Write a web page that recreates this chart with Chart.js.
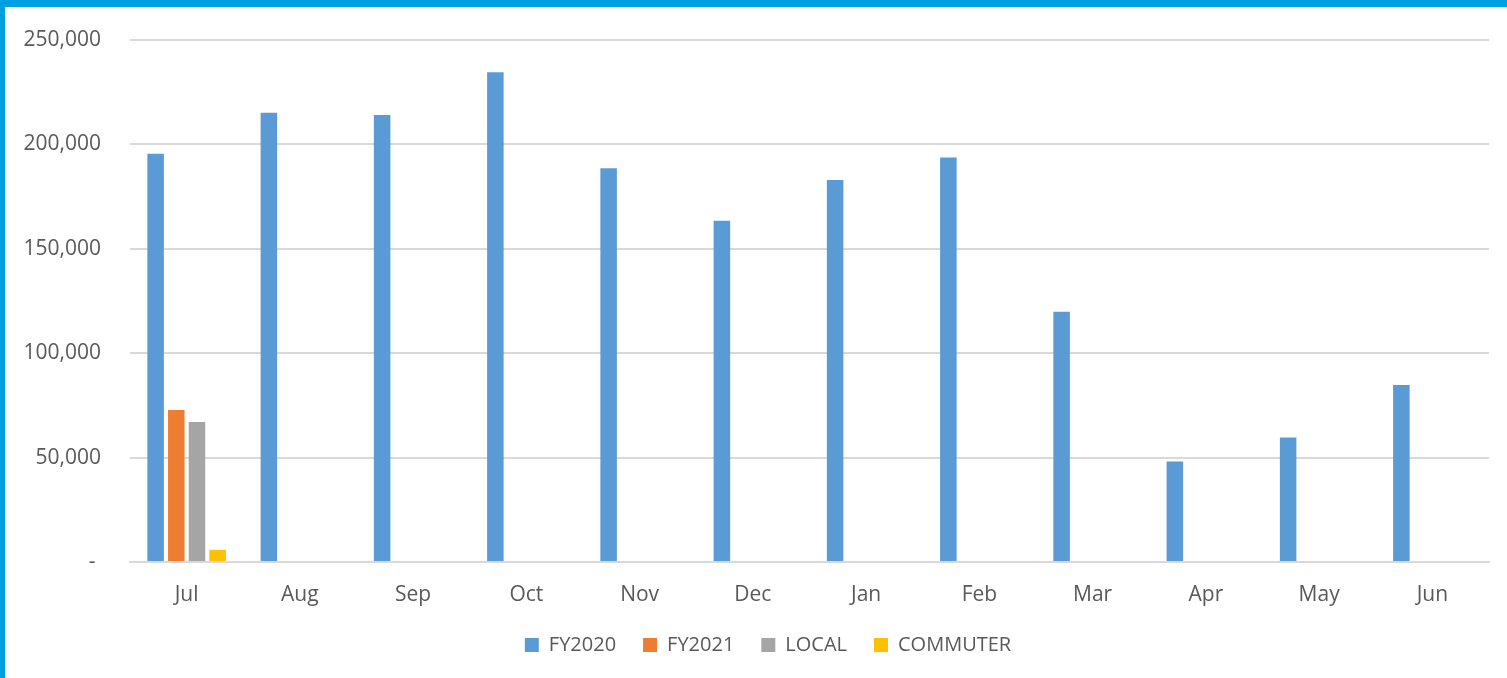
<!DOCTYPE html>
<html>
<head>
<meta charset="utf-8">
<script src="https://cdn.jsdelivr.net/npm/chart.js@4.4.1/dist/chart.umd.min.js"></script>
<style>
  html, body { margin: 0; padding: 0; background: #fff; }
  #frame {
    width: 1502px; height: 671px;
    border-top: 7px solid #009FDF;
    border-left: 5px solid #009FDF;
    background: #fff;
  }
  canvas { display: block; }
</style>
</head>
<body>
<div id="frame"><canvas id="c" width="1502" height="671"></canvas></div>
<script>
// Monthly ridership
const months = ['Jul', 'Aug', 'Sep', 'Oct', 'Nov', 'Dec', 'Jan', 'Feb', 'Mar', 'Apr', 'May', 'Jun'];
const fy2020 = [195500, 215200, 214100, 234600, 188600, 163400, 183000, 193700, 119900, 48100, 59600, 84800];
const fy2021 = [72800];
const local = [67100];
const commuter = [5800];
const yTicks = [0, 50000, 100000, 150000, 200000, 250000];

const textColor = '#595959';
const gridColor = '#D9D9D9';
const fontFamily = '"Open Sans", "Segoe UI", sans-serif';

// Nudge the legend row a little to the right of the canvas centre
const legendShift = {
  id: 'legendShift',
  afterLayout(chart) {
    if (chart.legend) {
      chart.legend.left += 12;
      chart.legend.right += 12;
    }
  }
};

new Chart(document.getElementById('c'), {
  type: 'bar',
  data: {
    labels: months,
    datasets: [
      { label: 'FY2020', data: fy2020, backgroundColor: '#5B9BD5' },
      { label: 'FY2021', data: fy2021, backgroundColor: '#ED7D31' },
      { label: 'LOCAL', data: local, backgroundColor: '#A5A5A5' },
      { label: 'COMMUTER', data: commuter, backgroundColor: '#FFC000' }
    ]
  },
  plugins: [legendShift],
  options: {
    responsive: false,
    animation: false,
    events: [],
    datasets: { bar: { categoryPercentage: 0.73, barPercentage: 0.8 } },
    layout: { padding: { left: 18, right: 18, top: 33, bottom: 13 } },
    scales: {
      x: {
        grid: { display: false, drawTicks: false },
        border: { display: true, color: gridColor, width: 2 },
        ticks: { color: textColor, font: { family: fontFamily, size: 21 }, padding: 20 },
        afterFit: (axis) => { axis.height = 46; }
      },
      y: {
        min: 0,
        max: 250000,
        afterBuildTicks: (axis) => { axis.ticks = yTicks.map(v => ({ value: v })); },
        grid: { color: gridColor, lineWidth: 2, drawTicks: true, tickLength: 27, tickColor: 'rgba(0,0,0,0)' },
        border: { display: false },
        ticks: {
          color: textColor,
          font: { family: fontFamily, size: 21 },
          padding: 2,
          callback: (v) => v === 0 ? '- ' : v.toLocaleString('en-US')
        },
        afterFit: (axis) => { axis.width = 107; }
      }
    },
    plugins: {
      tooltip: { enabled: false },
      legend: {
        position: 'bottom',
        labels: {
          boxWidth: 14,
          boxHeight: 14,
          padding: 27,
          color: textColor,
          font: { family: fontFamily, size: 20 }
        }
      }
    }
  }
});
</script>
</body>
</html>
